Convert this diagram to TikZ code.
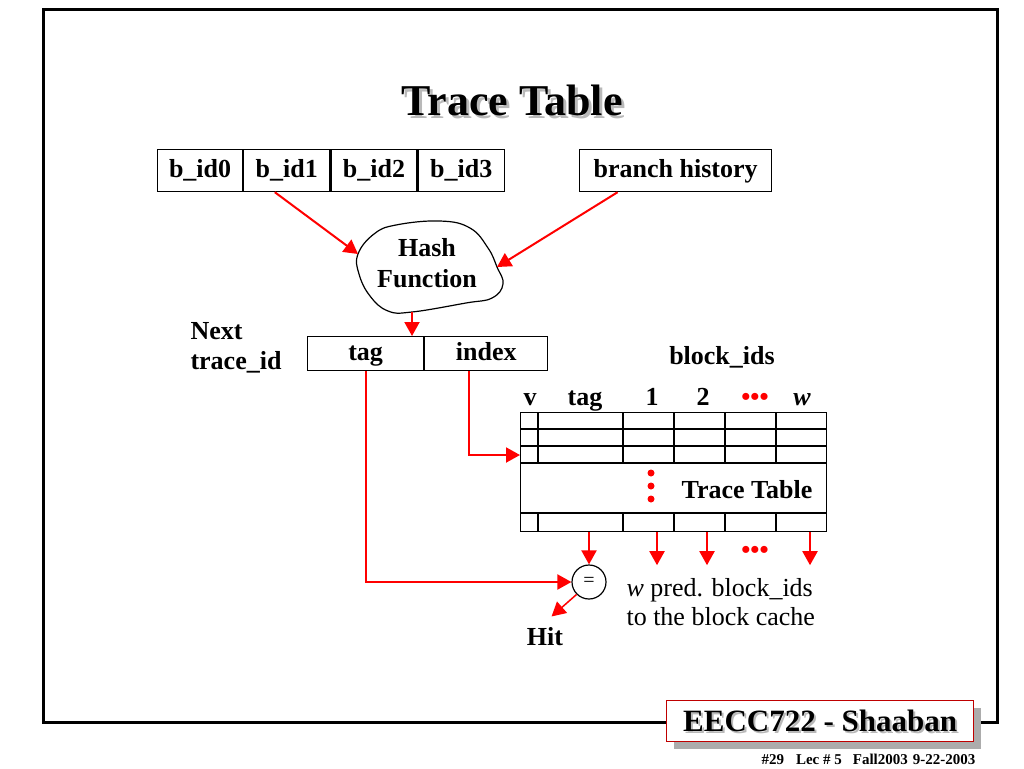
\documentclass[tikz,border=0pt]{standalone}
\usepackage{fontspec}
\setmainfont{Liberation Serif}
\usepackage{tikz}
\usetikzlibrary{calc}
\usetikzlibrary{arrows.meta}

\begin{document}
\begin{tikzpicture}[x=1pt, y=-1pt,
    every node/.style={font=\fontsize{26}{31}\bfseries\selectfont},
    field/.style={draw, line width=1.2pt, minimum height=42pt, inner sep=0pt, text height=18pt, text depth=5pt, anchor=north west},
    redarrow/.style={draw=red, line width=2pt, -{Triangle[length=14pt,width=15pt]}},
    shadowtext/.style={text=gray!55}]
  \useasboundingbox (0,0) rectangle (1024,768);
  % outer frame
  \draw[line width=3pt] (666,722) -- (43,722) -- (43,10) -- (997,10) -- (997,722) -- (981,722);
  % title
  \node[shadowtext, font=\fontsize{44}{44}\bfseries\selectfont] (titleshadow) at (515,103) {Trace Table};
  \node[font=\fontsize{44}{44}\bfseries\selectfont] (title) at (512,100) {Trace Table};
  % block ids and branch history
  \node[field, minimum width=85pt] (bid0) at (157,149) {b\_id0};
  \node[field, minimum width=86pt] (bid1) at (bid0.north east) {b\_id1};
  \node[field, minimum width=86pt] (bid2) at (bid1.north east) {b\_id2};
  \node[field, minimum width=86pt] (bid3) at (bid2.north east) {b\_id3};
  \node[field, minimum width=192pt] (branchhist) at (579,149) {branch history};
  % hash function
  \coordinate (hashinl) at (358,254);
  \coordinate (hashinr) at (497,267);
  \coordinate (hashout) at (412,312);
  \draw[line width=1.2pt] plot[smooth cycle, tension=0.7] coordinates {
    (hashinl) (374,234) (396,225) (440,221) (470,228) (488,248) (hashinr)
    (503,284) (492,298) (466,303) (hashout) (388,311) (370,296) (359,274)};
  \node[align=center] (hashfn) at (427,263) {Hash\\Function};
  \draw[redarrow] ([xshift=-12pt]bid1.south) -- (hashinl);
  \draw[redarrow] ([xshift=-58pt]branchhist.south) -- (hashinr);
  % next trace id
  \node[align=left, anchor=west, font=\fontsize{26}{30}\bfseries\selectfont] (nexttrace) at (187,348) {Next\\trace\_id};
  \node[field, minimum width=116pt, minimum height=34pt] (tagfield) at (307,336) {tag};
  \node[field, minimum width=123pt, minimum height=34pt] (indexfield) at (tagfield.north east) {index};
  \draw[redarrow] (hashout) -- (hashout |- tagfield.north);
  % trace table
  \node (blockids) at (722,357) {block\_ids};
  \node[draw, line width=1.2pt, minimum width=306pt, minimum height=119pt, inner sep=0pt, anchor=north west] (tracetab) at (520,412) {};
  \foreach \y in {429,446,463,513}
    \draw[line width=1.2pt] (tracetab.west |- 0,\y) -- (tracetab.east |- 0,\y);
  \foreach \x in {538,623,674,725,776} {
    \draw[line width=1.2pt] (\x,412) -- (\x,463);
    \draw[line width=1.2pt] (\x,513) -- (\x,531);
  }
  \foreach \x/\t in {530/v, 585/tag, 652/1, 703/2, 802/\textit{w}}
    \node[anchor=base] (head\x) at (\x,405) {\t};
  \node[text=red] (headdots) at (755,399) {•••};
  \foreach \y in {473,486,499}
    \fill[red] (651,\y) circle (3.5pt);
  \node (tabletitle) at (747,490) {Trace Table};
  \draw[redarrow] ([xshift=-17pt]indexfield.south) |- (tracetab.north west |- 0,455);
  % compare and outputs
  \node[draw, circle, line width=1.2pt, minimum size=34pt, inner sep=0pt, font=\fontsize{20}{20}\selectfont] (eqnode) at (589,582) {=};
  \draw[redarrow] (tagfield.south) |- (eqnode.west);
  \draw[redarrow] (tracetab.south -| eqnode) -- (eqnode.north);
  \foreach \x in {657,707,810}
    \draw[redarrow] (tracetab.south -| \x,0) -- ++(0,33);
  \node[text=red] (outdots) at (755,552) {•••};
  \node (hit) at (545,637) {Hit};
  \draw[redarrow, line width=1.5pt] (eqnode.225) -- ++(-25,22);
  \node[align=left, anchor=west, font=\fontsize{26}{29}\selectfont] (predtext) at (623,602) {\textit{w} pred. block\_ids\\to the block cache};
  % footer
  \node[fill=gray!65, minimum width=307pt, minimum height=41pt, inner sep=0pt, anchor=north west] (footshadow) at (674,708) {};
  \node[draw=red!75!black, fill=white, line width=1.2pt, minimum width=307pt, minimum height=41pt, inner sep=0pt, anchor=north west] (footbox) at (666,700) {};
  \node[shadowtext, font=\fontsize{31}{31}\bfseries\selectfont] (footnameshadow) at ([shift={(2,2)}]footbox.center) {EECC722 - Shaaban};
  \node[font=\fontsize{31}{31}\bfseries\selectfont] (footname) at (footbox.center) {EECC722 - Shaaban};
  \node[anchor=base west, font=\fontsize{15}{15}\bfseries\selectfont] (lecinfo) at (758,764) {\#29\hspace{12pt}Lec \# 5\hspace{11pt}Fall2003\hspace{5pt}9-22-2003};
\end{tikzpicture}
\end{document}
